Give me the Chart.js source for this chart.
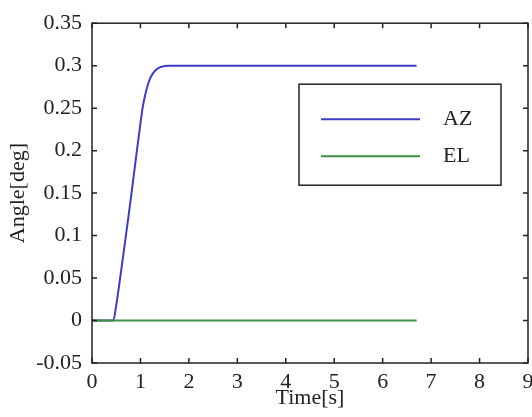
<!DOCTYPE html>
<html><head><meta charset="utf-8">
<script src="https://cdn.jsdelivr.net/npm/chart.js@4/dist/chart.umd.min.js"></script>
<style>html,body{margin:0;padding:0;background:#fff}#wrap{width:532px;height:417px}</style>
</head><body><div id="wrap"><canvas id="c" width="532" height="417"></canvas></div>
<script>
const seriesNames = ['AZ', 'EL'];
const timeAZ = [0, 0.44, 0.5, 0.6, 0.7, 0.8, 0.9, 1.0, 1.05, 1.1, 1.15, 1.2, 1.3, 1.4, 1.5, 1.6, 1.8, 2.5, 4, 6.7];
const valuesAZ = [0, 0, 0.018, 0.058, 0.1, 0.143, 0.188, 0.232, 0.252, 0.266, 0.277, 0.285, 0.294, 0.298, 0.2995, 0.3, 0.3, 0.3, 0.3, 0.3];
const timeEL = [0, 6.7];
const valuesEL = [0, 0];
const xTicks = [0, 1, 2, 3, 4, 5, 6, 7, 8, 9];
const xTickLabels = ['0', '1', '2', '3', '4', '5', '6', '7', '8', '9'];
const yTicks = [-0.05, 0, 0.05, 0.1, 0.15, 0.2, 0.25, 0.3, 0.35];
const yTickLabels = ['-0.05', '0', '0.05', '0.1', '0.15', '0.2', '0.25', '0.3', '0.35'];
const xTitle = 'Time[s]';
const yTitle = 'Angle[deg]';

const FONT = "'Liberation Serif', 'Times New Roman', serif";
const INK = '#222';
const colors = ['#3c3cc8', '#3c9040'];

const toPts = (xs, ys) => xs.map((v, i) => ({x: v, y: ys[i]}));

const framePlugin = {
  id: 'frame',
  afterDatasetsDraw(chart) {
    const {ctx, chartArea: {left, right, top, bottom}, scales: {x, y}} = chart;
    ctx.save();
    ctx.strokeStyle = INK;
    ctx.lineWidth = 1.5;
    ctx.beginPath();
    xTicks.forEach(v => {
      const px = x.getPixelForValue(v);
      ctx.moveTo(px, bottom); ctx.lineTo(px, bottom - 5);
      ctx.moveTo(px, top); ctx.lineTo(px, top + 5);
    });
    yTicks.forEach(v => {
      const py = y.getPixelForValue(v);
      ctx.moveTo(left, py); ctx.lineTo(left + 5, py);
      ctx.moveTo(right, py); ctx.lineTo(right - 5, py);
    });
    ctx.stroke();
    ctx.strokeRect(left, top, right - left, bottom - top);
    // legend box
    const bx = left + 207, by = top + 61, bw = 202, bh = 101;
    ctx.fillStyle = '#fff';
    ctx.fillRect(bx, by, bw, bh);
    ctx.strokeRect(bx, by, bw, bh);
    ctx.font = '22px ' + FONT;
    ctx.textBaseline = 'middle';
    ctx.textAlign = 'left';
    chart.data.datasets.forEach((ds, i) => {
      const ly = by + 35 + i * 37;
      ctx.strokeStyle = ds.borderColor;
      ctx.lineWidth = 2;
      ctx.beginPath(); ctx.moveTo(bx + 22, ly); ctx.lineTo(bx + 121, ly); ctx.stroke();
      ctx.fillStyle = INK;
      ctx.fillText(ds.label, bx + 144, ly);
    });
    ctx.restore();
  }
};

new Chart(document.getElementById('c'), {
  type: 'scatter',
  data: {
    datasets: [
      {label: seriesNames[0], data: toPts(timeAZ, valuesAZ), borderColor: colors[0], backgroundColor: colors[0], showLine: true, pointRadius: 0, borderWidth: 2, cubicInterpolationMode: 'monotone', order: 1},
      {label: seriesNames[1], data: toPts(timeEL, valuesEL), borderColor: colors[1], backgroundColor: colors[1], showLine: true, pointRadius: 0, borderWidth: 2, order: 0}
    ]
  },
  options: {
    responsive: false,
    animation: false,
    layout: {padding: {top: 21, right: 4, left: 0, bottom: 0}},
    plugins: {legend: {display: false}, tooltip: {enabled: false}},
    scales: {
      x: {
        type: 'linear', min: 0, max: 9,
        afterBuildTicks: s => { s.ticks = xTicks.map(v => ({value: v})); },
        afterFit: s => { s.height = 54; s.paddingLeft = 0; s.paddingRight = 0; },
        grid: {display: false, drawTicks: false},
        border: {display: false},
        ticks: {autoSkip: false, maxRotation: 0, padding: 8, color: INK, font: {family: FONT, size: 22, lineHeight: 1},
          callback: (v, i) => xTickLabels[i]},
        title: {display: true, text: xTitle, color: INK, font: {family: FONT, size: 22}, padding: {top: 0, bottom: 6}}
      },
      y: {
        type: 'linear', min: -0.05, max: 0.35,
        afterBuildTicks: s => { s.ticks = yTicks.map(v => ({value: v})); },
        afterFit: s => { s.width = 92; },
        grid: {display: false, drawTicks: false},
        border: {display: false},
        ticks: {autoSkip: false, padding: 10, color: INK, font: {family: FONT, size: 22},
          callback: (v, i) => yTickLabels[i]},
        title: {display: true, text: yTitle, color: INK, font: {family: FONT, size: 22}, padding: {top: 5, bottom: 0}}
      }
    }
  },
  plugins: [framePlugin]
});
</script></body></html>
